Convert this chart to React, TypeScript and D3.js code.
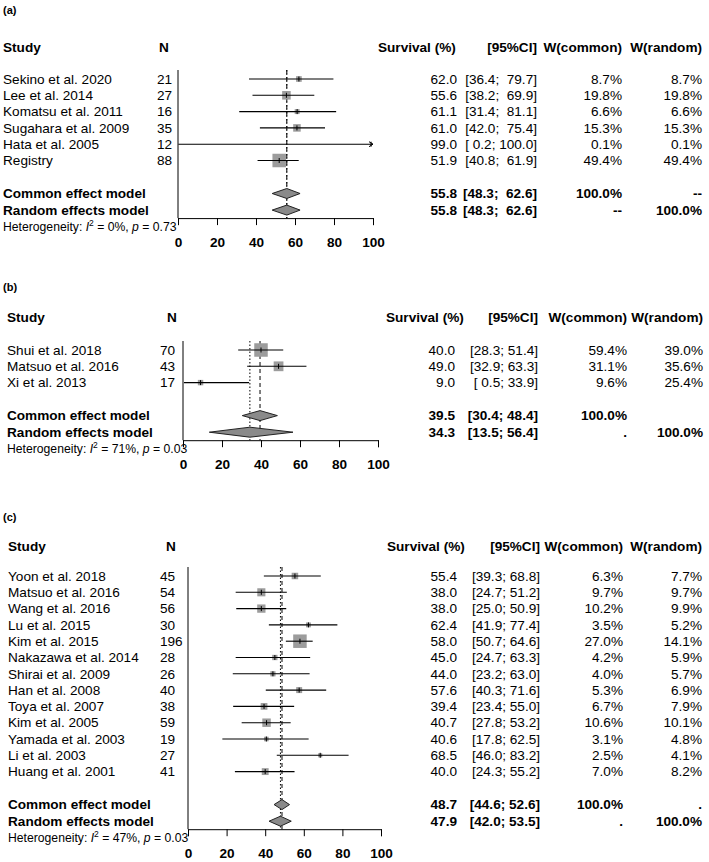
import React, { useEffect, useRef } from 'react';
import * as d3 from 'd3';

// ---- panel (a) ----
const studiesA = ['Sekino et al. 2020', 'Lee et al. 2014', 'Komatsu et al. 2011', 'Sugahara et al. 2009', 'Hata et al. 2005', 'Registry'];
const nA = [21, 27, 16, 35, 12, 88];
const estA = [62.0, 55.6, 61.1, 61.0, 99.0, 51.9];
const lowerA = [36.4, 38.2, 31.4, 42.0, 0.2, 40.8];
const upperA = [79.7, 69.9, 81.1, 75.4, 100.0, 61.9];
const wCommonA = [8.7, 19.8, 6.6, 15.3, 0.1, 49.4];
const wRandomA = [8.7, 19.8, 6.6, 15.3, 0.1, 49.4];
const commonA = [55.8, 48.3, 62.6];
const randomA = [55.8, 48.3, 62.6];
const pooledWA = [['100.0%', '--'], ['--', '100.0%']];

// ---- panel (b) ----
const studiesB = ['Shui et al. 2018', 'Matsuo et al. 2016', 'Xi et al. 2013'];
const nB = [70, 43, 17];
const estB = [40.0, 49.0, 9.0];
const lowerB = [28.3, 32.9, 0.5];
const upperB = [51.4, 63.3, 33.9];
const wCommonB = [59.4, 31.1, 9.6];
const wRandomB = [39.0, 35.6, 25.4];
const commonB = [39.5, 30.4, 48.4];
const randomB = [34.3, 13.5, 56.4];
const pooledWB = [['100.0%', ''], ['.', '100.0%']];

// ---- panel (c) ----
const studiesC = ['Yoon et al. 2018', 'Matsuo et al. 2016', 'Wang et al. 2016', 'Lu et al. 2015', 'Kim et al. 2015',
  'Nakazawa et al. 2014', 'Shirai et al. 2009', 'Han et al. 2008', 'Toya et al. 2007', 'Kim et al. 2005',
  'Yamada et al. 2003', 'Li et al. 2003', 'Huang et al. 2001'];
const nC = [45, 54, 56, 30, 196, 28, 26, 40, 38, 59, 19, 27, 41];
const estC = [55.4, 38.0, 38.0, 62.4, 58.0, 45.0, 44.0, 57.6, 39.4, 40.7, 40.6, 68.5, 40.0];
const lowerC = [39.3, 24.7, 25.0, 41.9, 50.7, 24.7, 23.2, 40.3, 23.4, 27.8, 17.8, 46.0, 24.3];
const upperC = [68.8, 51.2, 50.9, 77.4, 64.6, 63.3, 63.0, 71.6, 55.0, 53.2, 62.5, 83.2, 55.2];
const wCommonC = [6.3, 9.7, 10.2, 3.5, 27.0, 4.2, 4.0, 5.3, 6.7, 10.6, 3.1, 2.5, 7.0];
const wRandomC = [7.7, 9.7, 9.9, 5.2, 14.1, 5.9, 5.7, 6.9, 7.9, 10.1, 4.8, 4.1, 8.2];
const commonC = [48.7, 44.6, 52.6];
const randomC = [47.9, 42.0, 53.5];
const pooledWC = [['100.0%', '.'], ['.', '100.0%']];

const ticks = [0, 20, 40, 60, 80, 100];

const panels = [
  {
    tag: '(a)', studies: studiesA, n: nA, est: estA, lower: lowerA, upper: upperA,
    wCommon: wCommonA, wRandom: wRandomA, common: commonA, random: randomA, pooledW: pooledWA, i2: '0%', p: '0.73',
    layout: { tagY: 10, headY: 47, row0: 79, left: 3, nHead: 159, nX: 157, survHead: 378, estR: 457, ciR: 537, wcR: 622, wrR: 702, x0: 178, x1: 373 },
  },
  {
    tag: '(b)', studies: studiesB, n: nB, est: estB, lower: lowerB, upper: upperB,
    wCommon: wCommonB, wRandom: wRandomB, common: commonB, random: randomB, pooledW: pooledWB, i2: '71%', p: '0.03',
    layout: { tagY: 287, headY: 317, row0: 350, left: 7, nHead: 167, nX: 160, survHead: 386, estR: 455, ciR: 538, wcR: 627, wrR: 703, x0: 183, x1: 378 },
  },
  {
    tag: '(c)', studies: studiesC, n: nC, est: estC, lower: lowerC, upper: upperC,
    wCommon: wCommonC, wRandom: wRandomC, common: commonC, random: randomC, pooledW: pooledWC, i2: '47%', p: '0.03',
    layout: { tagY: 517, headY: 546, row0: 576, left: 8, nHead: 166, nX: 160, survHead: 387, estR: 457, ciR: 540, wcR: 623, wrR: 702, x0: 188, x1: 381 },
  },
];

const ROW = 16.3;
const FS = 13.6;

const App = () => {
  const svgRef = useRef(null);

  useEffect(() => {
    const svg = d3.select(svgRef.current);
    svg.selectAll('*').remove();

    const txt = (g, x, y, s, anchor = 'start', bold = false, size = FS) =>
      g.append('text')
        .attr('x', x)
        .attr('y', y)
        .attr('dy', '0.35em')
        .attr('text-anchor', anchor)
        .style('font-size', `${size}px`)
        .style('font-weight', bold ? 'bold' : 'normal')
        .style('white-space', 'pre')
        .text(s);

    panels.forEach(P => {
      const L = P.layout;
      const g = svg.append('g');
      const x = d3.scaleLinear().domain([0, 100]).range([L.x0, L.x1]);
      const rowY = i => L.row0 + i * ROW;
      const lastY = rowY(P.studies.length - 1);
      const comY = lastY + 33;
      const ranY = comY + 16.6;
      const axisY = ranY + 8;
      const topY = L.row0 - 9;

      // CI text formatting (pad for alignment)
      const allLow = [...P.lower, P.common[1], P.random[1]].map(v => v.toFixed(1));
      const allUp = [...P.upper, P.common[2], P.random[2]].map(v => v.toFixed(1));
      const lw = d3.max(allLow, s => s.length);
      const uw = d3.max(allUp, s => s.length);
      const ci = (lo, hi) => `[${lo.toFixed(1).padStart(lw)}; ${hi.toFixed(1).padStart(uw)}]`;

      // headers
      txt(g, 3, L.tagY, P.tag, 'start', true, 11);
      txt(g, L.left, L.headY, 'Study', 'start', true);
      txt(g, L.nHead, L.headY, 'N', 'start', true);
      txt(g, L.survHead, L.headY, 'Survival (%)', 'start', true);
      txt(g, L.ciR, L.headY, '[95%CI]', 'end', true);
      txt(g, L.wcR, L.headY, 'W(common)', 'end', true);
      txt(g, L.wrR, L.headY, 'W(random)', 'end', true);

      // study rows text
      P.studies.forEach((s, i) => {
        const y = rowY(i);
        txt(g, L.left, y, s);
        txt(g, L.nX, y, String(P.n[i]));
        txt(g, L.estR, y, P.est[i].toFixed(1), 'end');
        txt(g, L.ciR, y, ci(P.lower[i], P.upper[i]), 'end');
        txt(g, L.wcR, y, `${P.wCommon[i].toFixed(1)}%`, 'end');
        txt(g, L.wrR, y, `${P.wRandom[i].toFixed(1)}%`, 'end');
      });

      // pooled rows text
      [['Common effect model', P.common, comY, P.pooledW[0]], ['Random effects model', P.random, ranY, P.pooledW[1]]]
        .forEach(([label, v, y, w]) => {
          txt(g, L.left, y, label, 'start', true);
          txt(g, L.estR, y, v[0].toFixed(1), 'end', true);
          txt(g, L.ciR, y, ci(v[1], v[2]), 'end', true);
          txt(g, L.wcR, y, w[0], 'end', true);
          txt(g, L.wrR, y, w[1], 'end', true);
        });

      // heterogeneity
      const het = g.append('text')
        .attr('x', L.left)
        .attr('y', ranY + 17)
        .attr('dy', '0.35em')
        .style('font-size', '12.2px');
      het.append('tspan').text('Heterogeneity: ');
      het.append('tspan').style('font-style', 'italic').text('I');
      het.append('tspan').attr('dy', -5).style('font-size', '8.5px').text('2');
      het.append('tspan').attr('dy', 5).text(` = ${P.i2}, `);
      het.append('tspan').style('font-style', 'italic').text('p');
      het.append('tspan').text(` = ${P.p}`);

      // reference line at 0
      g.append('line')
        .attr('x1', x(0)).attr('x2', x(0))
        .attr('y1', topY).attr('y2', axisY)
        .attr('stroke', '#000');

      // pooled estimate lines
      g.append('line')
        .attr('x1', x(P.common[0])).attr('x2', x(P.common[0]))
        .attr('y1', topY).attr('y2', axisY)
        .attr('stroke', '#000')
        .attr('stroke-dasharray', '4,3');
      g.append('line')
        .attr('x1', x(P.random[0])).attr('x2', x(P.random[0]))
        .attr('y1', topY).attr('y2', axisY)
        .attr('stroke', '#000')
        .attr('stroke-dasharray', '1.5,2');

      // squares, CIs
      const wMax = d3.max(P.wCommon);
      P.studies.forEach((s, i) => {
        const y = rowY(i);
        const side = 13.5 * Math.sqrt(P.wCommon[i] / wMax);
        g.append('rect')
          .attr('x', x(P.est[i]) - side / 2)
          .attr('y', y - side / 2)
          .attr('width', side)
          .attr('height', side)
          .attr('fill', '#9c9c9c');
        g.append('line')
          .attr('x1', x(Math.max(0, P.lower[i]))).attr('x2', x(Math.min(100, P.upper[i])))
          .attr('y1', y).attr('y2', y)
          .attr('stroke', '#000')
          .attr('stroke-width', 1.1);
        g.append('line')
          .attr('x1', x(P.est[i])).attr('x2', x(P.est[i]))
          .attr('y1', y - 2.5).attr('y2', y + 2.5)
          .attr('stroke', '#000');
        if (P.upper[i] >= 100) {
          const xe = x(100);
          g.append('path')
            .attr('d', `M${xe - 4},${y - 2.5}L${xe},${y}L${xe - 4},${y + 2.5}`)
            .attr('fill', 'none')
            .attr('stroke', '#000');
        }
      });

      // diamonds
      [[P.common, comY], [P.random, ranY]].forEach(([v, y]) => {
        g.append('path')
          .attr('d', `M${x(v[1])},${y}L${x(v[0])},${y - 5}L${x(v[2])},${y}L${x(v[0])},${y + 5}Z`)
          .attr('fill', '#8a8a8a')
          .attr('stroke', '#222')
          .attr('stroke-width', 1);
      });

      // x axis
      const ax = g.append('g')
        .attr('transform', `translate(0, ${axisY})`)
        .call(d3.axisBottom(x).tickValues(ticks).tickSize(7).tickSizeOuter(7).tickPadding(12));
      ax.attr('font-family', null).attr('font-size', null);
      ax.selectAll('text')
        .style('font-size', `${FS}px`)
        .style('font-weight', 'bold')
        .attr('fill', '#000');
      ax.selectAll('line, path').attr('stroke', '#000');
    });
  }, []);

  return (
    <svg
      ref={svgRef}
      width={709}
      height={862}
      style={{ position: 'absolute', left: 0, top: 0, background: '#fff', fontFamily: '"Liberation Sans", Arial, sans-serif' }}
    />
  );
};

export default App;
